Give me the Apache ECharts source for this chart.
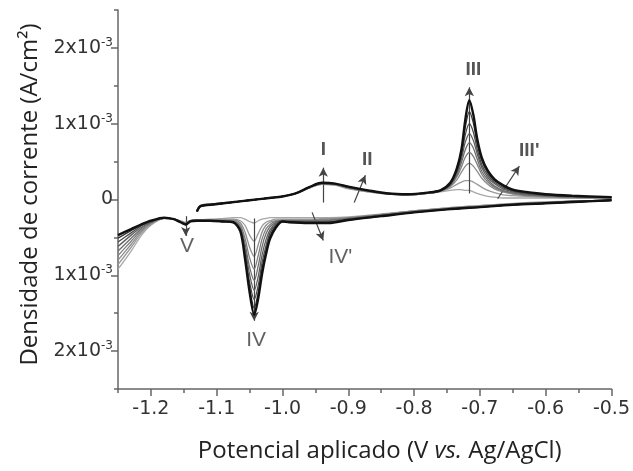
<!DOCTYPE html>
<html>
<head>
<meta charset="utf-8">
<script src="https://cdn.jsdelivr.net/npm/echarts@6/dist/echarts.min.js"></script>
<style>
  html, body { margin: 0; padding: 0; background: #fff; }
  #container { width: 633px; height: 471px; }
</style>
</head>
<body>
<div id="container"></div>
<script>
// eixo x: potencial (V vs Ag/AgCl); eixo y em unidades de 1x10^-3 A/cm2

// varredura catodica (-0.50 -> -1.25)
var cathodicX = [-0.50, -0.55, -0.60, -0.65, -0.70, -0.75, -0.80, -0.85, -0.90, -0.93, -0.96, -0.99,
    -1.00, -1.01, -1.019, -1.025, -1.031, -1.037, -1.043, -1.050, -1.057, -1.064, -1.075, -1.09,
    -1.11, -1.13, -1.14, -1.147, -1.155, -1.165, -1.18, -1.20, -1.215, -1.23, -1.25];

var cathodicY = [
    [-0.01,-0.02,-0.03,-0.05,-0.08,-0.11,-0.15,-0.19,-0.23,-0.24,-0.24,-0.24,-0.24,-0.24,-0.24,-0.25,-0.26,-0.28,-0.31,-0.29,-0.26,-0.24,-0.24,-0.25,-0.26,-0.27,-0.28,-0.30,-0.28,-0.26,-0.25,-0.34,-0.48,-0.68,-0.92],
    [-0.01,-0.02,-0.04,-0.06,-0.08,-0.11,-0.15,-0.20,-0.24,-0.25,-0.26,-0.26,-0.26,-0.26,-0.28,-0.30,-0.35,-0.45,-0.55,-0.47,-0.34,-0.28,-0.26,-0.26,-0.27,-0.27,-0.28,-0.31,-0.29,-0.26,-0.25,-0.33,-0.45,-0.63,-0.86],
    [-0.01,-0.02,-0.04,-0.06,-0.09,-0.12,-0.15,-0.20,-0.24,-0.26,-0.27,-0.27,-0.27,-0.28,-0.30,-0.34,-0.43,-0.60,-0.75,-0.63,-0.43,-0.31,-0.27,-0.27,-0.27,-0.27,-0.28,-0.31,-0.29,-0.26,-0.25,-0.32,-0.43,-0.59,-0.80],
    [-0.01,-0.02,-0.04,-0.06,-0.09,-0.12,-0.16,-0.20,-0.25,-0.27,-0.28,-0.28,-0.28,-0.29,-0.33,-0.39,-0.52,-0.74,-0.92,-0.77,-0.51,-0.34,-0.28,-0.28,-0.27,-0.27,-0.28,-0.32,-0.29,-0.26,-0.25,-0.31,-0.41,-0.55,-0.74],
    [-0.01,-0.02,-0.04,-0.07,-0.09,-0.12,-0.16,-0.21,-0.25,-0.28,-0.29,-0.28,-0.28,-0.30,-0.36,-0.45,-0.62,-0.88,-1.07,-0.89,-0.58,-0.37,-0.29,-0.28,-0.28,-0.27,-0.28,-0.32,-0.29,-0.26,-0.25,-0.30,-0.39,-0.51,-0.68],
    [-0.01,-0.03,-0.05,-0.07,-0.10,-0.13,-0.16,-0.21,-0.26,-0.29,-0.29,-0.29,-0.28,-0.31,-0.40,-0.53,-0.73,-1.02,-1.20,-0.99,-0.64,-0.39,-0.29,-0.28,-0.28,-0.28,-0.29,-0.32,-0.30,-0.26,-0.24,-0.30,-0.37,-0.47,-0.62],
    [-0.01,-0.03,-0.05,-0.07,-0.10,-0.13,-0.17,-0.21,-0.26,-0.30,-0.30,-0.29,-0.29,-0.33,-0.44,-0.61,-0.83,-1.14,-1.32,-1.09,-0.70,-0.40,-0.30,-0.29,-0.28,-0.28,-0.29,-0.33,-0.30,-0.26,-0.24,-0.29,-0.35,-0.44,-0.56],
    [-0.01,-0.03,-0.05,-0.07,-0.10,-0.13,-0.17,-0.22,-0.27,-0.31,-0.31,-0.30,-0.29,-0.35,-0.48,-0.67,-0.91,-1.23,-1.43,-1.16,-0.74,-0.41,-0.30,-0.29,-0.28,-0.28,-0.29,-0.33,-0.30,-0.26,-0.24,-0.29,-0.34,-0.41,-0.51],
    [-0.01,-0.03,-0.05,-0.07,-0.10,-0.13,-0.17,-0.22,-0.27,-0.31,-0.31,-0.30,-0.29,-0.37,-0.52,-0.72,-0.98,-1.31,-1.52,-1.22,-0.78,-0.42,-0.30,-0.29,-0.28,-0.28,-0.29,-0.33,-0.30,-0.26,-0.24,-0.28,-0.33,-0.39,-0.47]
];

// varredura anodica (-1.13 -> -0.50)
var anodicX = [-1.13, -1.125, -1.11, -1.08, -1.05, -1.02, -1.00, -0.98, -0.96, -0.94, -0.92, -0.90,
    -0.87, -0.84, -0.81, -0.78, -0.76, -0.745, -0.735, -0.728, -0.722, -0.716, -0.710, -0.704,
    -0.697, -0.688, -0.678, -0.665, -0.65, -0.63, -0.60, -0.56, -0.50];

var anodicY = [
    [-0.14,-0.08,-0.06,-0.04,-0.01,0.02,0.04,0.08,0.15,0.20,0.19,0.14,0.10,0.07,0.06,0.08, 0.10,0.12,0.13,0.13,0.12,0.12,0.10,0.08,0.06,0.04,0.03,0.02,0.02,0.02,0.02,0.02,0.02],
    [-0.14,-0.08,-0.06,-0.04,-0.01,0.02,0.04,0.08,0.15,0.20,0.19,0.15,0.10,0.07,0.06,0.08, 0.11,0.15,0.20,0.23,0.25,0.25,0.23,0.20,0.16,0.12,0.09,0.06,0.05,0.04,0.03,0.02,0.02],
    [-0.15,-0.08,-0.06,-0.04,-0.01,0.02,0.04,0.08,0.15,0.21,0.20,0.15,0.11,0.07,0.06,0.08, 0.11,0.17,0.26,0.36,0.44,0.48,0.44,0.37,0.28,0.20,0.14,0.10,0.07,0.05,0.04,0.03,0.02],
    [-0.15,-0.09,-0.07,-0.04,-0.01,0.02,0.04,0.08,0.16,0.21,0.20,0.16,0.11,0.08,0.06,0.08, 0.11,0.18,0.30,0.43,0.56,0.62,0.57,0.46,0.33,0.23,0.16,0.11,0.08,0.06,0.04,0.03,0.02],
    [-0.15,-0.09,-0.07,-0.04,-0.01,0.02,0.04,0.08,0.16,0.21,0.20,0.16,0.11,0.08,0.06,0.08, 0.11,0.19,0.32,0.49,0.66,0.75,0.68,0.53,0.37,0.26,0.18,0.12,0.09,0.06,0.05,0.03,0.03],
    [-0.15,-0.09,-0.07,-0.04,-0.01,0.02,0.04,0.08,0.16,0.21,0.20,0.16,0.11,0.08,0.07,0.09, 0.12,0.19,0.35,0.54,0.76,0.87,0.78,0.60,0.42,0.29,0.21,0.14,0.10,0.07,0.05,0.04,0.03],
    [-0.16,-0.09,-0.07,-0.04,-0.01,0.02,0.04,0.08,0.16,0.22,0.21,0.16,0.12,0.08,0.07,0.09, 0.12,0.20,0.37,0.58,0.86,1.00,0.89,0.66,0.46,0.32,0.23,0.16,0.11,0.08,0.06,0.04,0.03],
    [-0.16,-0.09,-0.07,-0.04,-0.01,0.02,0.04,0.08,0.16,0.22,0.21,0.17,0.12,0.08,0.07,0.09, 0.12,0.21,0.39,0.62,0.96,1.16,1.01,0.73,0.51,0.35,0.25,0.18,0.12,0.09,0.06,0.04,0.03],
    [-0.16,-0.09,-0.07,-0.04,-0.01,0.02,0.04,0.08,0.16,0.22,0.21,0.17,0.12,0.08,0.07,0.09, 0.12,0.22,0.41,0.66,1.06,1.31,1.12,0.80,0.55,0.38,0.27,0.19,0.13,0.10,0.07,0.05,0.03]
];

// ciclos mais claros -> mais escuros
var cycleColors = ['#a8a8a8', '#9a9a9a', '#8c8c8c', '#7e7e7e', '#6e6e6e', '#5e5e5e', '#4a4a4a', '#333333', '#111111'];

// ticks
var xMajorTicks = [-1.2, -1.1, -1.0, -0.9, -0.8, -0.7, -0.6, -0.5];
var xMinorTicks = [-1.25, -1.15, -1.05, -0.95, -0.85, -0.75, -0.65, -0.55];
var yMajorTicks = [-2, -1, 0, 1, 2];
var yMinorTicks = [-2.5, -1.5, -0.5, 0.5, 1.5, 2.5];

// setas e rotulos dos picos
var peakNames = ['I', 'II', 'III', "III'", "IV'", 'IV', 'V'];
var arrowFrom = [[-0.938, -0.04], [-0.891, -0.04], [-0.716, 0.08], [-0.673, 0.01], [-0.955, -0.17], [-1.043, -0.25], [-1.147, -0.22]];
var arrowTo = [[-0.938, 0.42], [-0.874, 0.32], [-0.716, 1.48], [-0.640, 0.44], [-0.938, -0.54], [-1.043, -1.60], [-1.147, -0.48]];
var labelPos = [[-0.938, 0.65], [-0.871, 0.52], [-0.710, 1.71], [-0.625, 0.64], [-0.912, -0.76], [-1.040, -1.85], [-1.145, -0.62]];

function pairs(xs, ys) {
    var out = [];
    for (var i = 0; i < xs.length; i++) {
        out.push([xs[i], ys[i]]);
    }
    return out;
}

var series = [];
for (var c = 0; c < cathodicY.length; c++) {
    var w = c === cathodicY.length - 1 ? 2.4 : 1.3;
    series.push({
        type: 'line', data: pairs(cathodicX, cathodicY[c]), showSymbol: false, smooth: 0.3,
        lineStyle: { color: cycleColors[c], width: w }, z: 2 + c, silent: true
    });
    series.push({
        type: 'line', data: pairs(anodicX, anodicY[c]), showSymbol: false, smooth: 0.3,
        lineStyle: { color: cycleColors[c], width: w }, z: 2 + c, silent: true
    });
}

// setas
var arrows = [];
for (var a = 0; a < peakNames.length; a++) {
    arrows.push([{ coord: arrowFrom[a] }, { coord: arrowTo[a] }]);
}
series.push({
    type: 'line', data: [], silent: true, z: 20,
    markLine: {
        silent: true, animation: false,
        symbol: ['none', 'arrow'], symbolSize: [7, 9],
        lineStyle: { color: '#444', width: 1.2, type: 'solid' },
        label: { show: false },
        data: arrows
    }
});

// rotulos
var labelData = [];
for (var b = 0; b < peakNames.length; b++) {
    var upper = b < 4;
    labelData.push({
        name: peakNames[b], value: labelPos[b],
        label: {
            fontSize: upper ? 19 : 21,
            fontWeight: upper ? 'bold' : 'normal',
            color: upper ? '#2a2a2a' : '#3a3a3a'
        }
    });
}
series.push({
    type: 'scatter', data: labelData, symbolSize: 0, silent: true, z: 21,
    label: { show: true, position: 'inside', formatter: '{b}', fontFamily: 'Liberation Sans' }
});

var myChart = echarts.init(document.getElementById('container'));
myChart.setOption({
    animation: false,
    backgroundColor: '#fff',
    grid: { left: 118, right: 21, top: 10, bottom: 82 },
    xAxis: [{
        type: 'value', min: -1.25, max: -0.5,
        name: 'Potencial aplicado (V {i|vs.} Ag/AgCl)',
        nameLocation: 'middle', nameGap: 50,
        nameTextStyle: {
            fontFamily: 'Open Sans', fontSize: 24, color: '#222', padding: [0, 0, 0, 30],
            rich: { i: { fontFamily: 'Open Sans', fontSize: 24, fontStyle: 'italic', color: '#222' } }
        },
        axisLine: { onZero: false, lineStyle: { color: '#666', width: 1.5 } },
        axisTick: { customValues: xMajorTicks, length: 7, lineStyle: { color: '#666', width: 1.5 } },
        axisLabel: {
            customValues: xMajorTicks, margin: 9,
            formatter: function(v) { return '{n|' + v.toFixed(1) + '}'; },
            rich: { n: { fontFamily: 'DejaVu Sans', fontSize: 19, lineHeight: 22, color: '#333' } }
        },
        splitLine: { show: false }
    }, {
        type: 'value', min: -1.25, max: -0.5, position: 'bottom',
        axisLine: { show: false, onZero: false },
        axisTick: { customValues: xMinorTicks, length: 4, lineStyle: { color: '#666', width: 1.5 } },
        axisLabel: { show: false },
        splitLine: { show: false }
    }],
    yAxis: [{
        type: 'value', min: -2.5, max: 2.5,
        name: 'Densidade de corrente (A/cm²)',
        nameLocation: 'middle', nameGap: 76,
        nameTextStyle: { fontFamily: 'Open Sans', fontSize: 24, color: '#222', padding: [0, 0, 0, 10] },
        axisLine: { onZero: false, lineStyle: { color: '#666', width: 1.5 } },
        axisTick: { customValues: yMajorTicks, length: 7, lineStyle: { color: '#666', width: 1.5 } },
        axisLabel: {
            customValues: yMajorTicks, margin: 5,
            formatter: function(v) {
                if (v === 0) return '{n|0}';
                return '{n|' + Math.abs(v) + 'x10}{s|-3}';
            },
            rich: {
                n: { fontFamily: 'DejaVu Sans', fontSize: 19, lineHeight: 22, color: '#333' },
                s: { fontFamily: 'DejaVu Sans', fontSize: 12, lineHeight: 12, verticalAlign: 'top', color: '#333' }
            }
        },
        splitLine: { show: false }
    }, {
        type: 'value', min: -2.5, max: 2.5, position: 'left',
        axisLine: { show: false, onZero: false },
        axisTick: { customValues: yMinorTicks, length: 4, lineStyle: { color: '#666', width: 1.5 } },
        axisLabel: { show: false },
        splitLine: { show: false }
    }],
    series: series
});
</script>
</body>
</html>
